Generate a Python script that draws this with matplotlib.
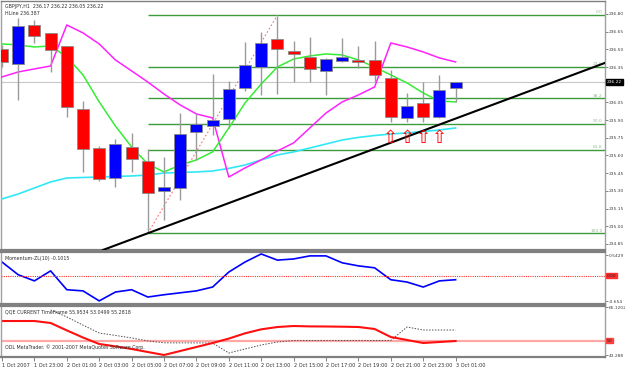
import numpy as np
import matplotlib
matplotlib.use("Agg")
import matplotlib.pyplot as plt
import matplotlib.transforms as mtransforms

# --- data (GBPJPY H1, one value per bar) ---
time_labels = ["1 Oct 2007", "1 Oct 23:00", "2 Oct 01:00", "2 Oct 03:00", "2 Oct 05:00",
               "2 Oct 07:00", "2 Oct 09:00", "2 Oct 11:00", "2 Oct 13:00", "2 Oct 15:00",
               "2 Oct 17:00", "2 Oct 19:00", "2 Oct 21:00", "2 Oct 23:00", "3 Oct 01:00"]

opens  = [236.503, 236.376, 236.707, 236.639, 236.529, 235.995, 235.664, 235.410, 235.673, 235.554,
          235.300, 235.325, 235.800, 235.851, 235.910, 236.173, 236.351, 236.588, 236.486, 236.436,
          236.317, 236.402, 236.410, 236.410, 236.258, 235.919, 236.046, 235.927, 236.173]
highs  = [236.537, 236.766, 236.749, 236.640, 236.530, 236.063, 235.681, 235.741, 235.792, 235.656,
          235.588, 235.961, 235.953, 236.292, 236.232, 236.563, 236.647, 236.783, 236.571, 236.605,
          236.427, 236.597, 236.529, 236.571, 236.325, 236.131, 236.224, 236.283, 236.220]
lows   = [236.351, 236.071, 236.554, 236.308, 235.927, 235.461, 235.385, 235.334, 235.461, 234.940,
          235.054, 235.224, 235.563, 235.775, 235.834, 236.147, 236.114, 236.122, 236.224, 236.224,
          236.114, 236.393, 236.342, 236.224, 235.885, 235.885, 235.885, 235.919, 236.054]
closes = [236.393, 236.698, 236.614, 236.495, 236.012, 235.656, 235.402, 235.698, 235.571, 235.283,
          235.334, 235.783, 235.868, 235.902, 236.164, 236.368, 236.554, 236.503, 236.461, 236.334,
          236.419, 236.436, 236.393, 236.283, 235.927, 236.020, 235.927, 236.156, 236.220]

ma_green = [236.546, 236.537, 236.520, 236.529, 236.435, 236.283, 236.054, 235.850, 235.672, 235.528,
            235.460, 235.519, 235.562, 235.630, 235.833, 236.045, 236.206, 236.350, 236.418, 236.444,
            236.461, 236.452, 236.410, 236.350, 236.283, 236.215, 236.130, 236.062, 236.054]
ma_magenta = [236.266, 236.308, 236.334, 236.359, 236.707, 236.639, 236.546, 236.410, 236.317, 236.223,
              236.121, 236.028, 235.952, 235.918, 235.417, 235.494, 235.562, 235.638, 235.706, 235.833,
              235.960, 236.054, 236.113, 236.181, 236.554, 236.520, 236.478, 236.427, 236.393]
ma_cyan = [235.231, 235.273, 235.324, 235.375, 235.409, 235.413, 235.417, 235.422, 235.426, 235.434,
           235.451, 235.456, 235.460, 235.468, 235.490, 235.519, 235.562, 235.604, 235.630, 235.663,
           235.697, 235.731, 235.753, 235.769, 235.782, 235.791, 235.803, 235.816, 235.833]

fib_high = 236.79
fib_low = 234.94
fib_start_bar = 9
fib_end_bar = 17
fib_levels = [0.0, 23.6, 38.2, 50.0, 61.8, 100.0]

trend_bar = 9
trend_price = 234.94
trend_slope = 0.0512   # price per bar

arrow_bars = [24, 25, 26, 27]
arrow_prices = [235.745, 235.745, 235.745, 235.745]

bid_price = 236.22

momentum = [0.36, 0.03, -0.13, 0.13, -0.36, -0.39, -0.65, -0.42, -0.36, -0.55,
            -0.49, -0.44, -0.39, -0.29, 0.10, 0.36, 0.57, 0.41, 0.44, 0.52,
            0.52, 0.34, 0.26, 0.21, -0.10, -0.16, -0.29, -0.13, -0.10]

qqe_fast = [59.46, 59.46, 59.46, 58.51, 55.00, 51.60, 48.52, 47.40, 46.15, 44.72,
            43.29, 45.19, 47.10, 49.00, 51.10, 53.60, 55.50, 56.60, 57.08, 56.90,
            56.85, 56.75, 56.61, 55.66, 51.85, 50.42, 49.00, 49.47, 49.95]
qqe_slow_bars = list(range(3, 29))
qqe_slow = [64.70, 61.40, 57.50, 53.75, 52.60, 51.40, 50.00, 49.10, 49.05, 49.05,
            49.00, 44.24, 46.14, 48.05, 49.47, 50.20, 50.20, 50.20, 50.20, 50.20,
            50.20, 50.20, 56.61, 55.18, 55.18, 55.18]

n = len(opens)
bars = np.arange(n)

# --- figure layout in pixels (625 x 367) ---
W, H = 625, 367
fig = plt.figure(figsize=(W / 100, H / 100), dpi=100)
fig.patch.set_facecolor("white")

def box(top, bottom, left=1, right=605):
    return [left / W, 1 - bottom / H, (right - left) / W, (bottom - top) / H]

ax = fig.add_axes(box(1, 250))
axm = fig.add_axes(box(252, 304), sharex=ax)
axq = fig.add_axes(box(306, 357), sharex=ax)

small = 3.4
ylab = 3.2
gray = "#808080"
for a in (ax, axm, axq):
    a.set_facecolor("white")
    for s in ("left", "right"):
        a.spines[s].set_color("#a0a0a0")
        a.spines[s].set_linewidth(1)
    for s in ("top", "bottom"):
        a.spines[s].set_color(gray)
        a.spines[s].set_linewidth(1.6)
    a.yaxis.tick_right()
    a.tick_params(axis="y", direction="out", length=2, width=0.6, color="#707070",
                  labelsize=ylab, labelcolor="#404040", pad=0.6)
    a.tick_params(axis="x", bottom=False, labelbottom=False)

ax.spines["top"].set_linewidth(1)

x_left = -1 / 16.2
x_right = x_left + 604 / 16.2
ax.set_xlim(x_left, x_right)

# --- main price panel ---
ax.set_ylim(234.798, 236.910)
price_ticks = np.round(np.arange(234.85, 236.81, 0.15), 2)
ax.set_yticks(price_ticks)
# the 236.20 label sits under the bid price box
ax.set_yticklabels(["" if abs(t - 236.20) < 1e-6 else "%.2f" % t for t in price_ticks])

ax.axhline(bid_price, color="#c8c8c8", lw=0.8, zorder=1)

# fibonacci
fib_tr = mtransforms.blended_transform_factory(ax.transAxes, ax.transData)
for lvl in fib_levels:
    p = fib_high - (fib_high - fib_low) * lvl / 100
    ax.hlines(p, fib_start_bar, x_right, color="#3c9c3c", lw=1.0, zorder=2)
    ax.text(0.996, p + 0.006, "%.1f" % lvl, transform=fib_tr, ha="right", va="bottom",
            fontsize=3.2, color="#98b898", zorder=6)
ax.plot([fib_start_bar, fib_end_bar], [fib_low, fib_high], ls=(0, (1.5, 2)),
        color="#ff7070", lw=0.8, zorder=2)

# moving averages
ax.plot(bars, ma_cyan, color="#30e8f5", lw=1.2, zorder=3)
ax.plot(bars, ma_magenta, color="#ff22ff", lw=1.1, zorder=3)
ax.plot(bars, ma_green, color="#33ee33", lw=1.1, zorder=3)

# candles
for i in range(n):
    o, h, l, c = opens[i], highs[i], lows[i], closes[i]
    col = "#0000ff" if c >= o else "#ff0000"
    ax.vlines(i, l, h, color="#9a9a9a", lw=1.0, zorder=4)
    ax.bar(i, max(abs(c - o), 0.02), bottom=min(o, c), width=0.74, color=col,
           edgecolor="#8a8a8a", linewidth=0.6, zorder=5)

# trend line
ax.axline((trend_bar, trend_price), slope=trend_slope, color="black", lw=1.5, zorder=6)

# arrows
for b, p in zip(arrow_bars, arrow_prices):
    ax.text(b, p, "\u21e7", color="red", fontsize=13, ha="center", va="center",
            family="DejaVu Sans", zorder=7)

ax.text(4 / 604, 1 - 3 / 249, "GBPJPY,H1  236.17 236.22 236.05 236.22", transform=ax.transAxes,
        ha="left", va="top", fontsize=small, color="#303030")
ax.text(4 / 604, 1 - 10 / 249, "HLine 236.387", transform=ax.transAxes,
        ha="left", va="top", fontsize=small, color="#303030")

price_tr = mtransforms.blended_transform_factory(ax.transAxes, ax.transData)
ax.text(1.003, bid_price, "236.22", transform=price_tr, ha="left", va="center",
        fontsize=ylab, color="white", clip_on=False, zorder=8,
        bbox=dict(boxstyle="square,pad=0.2", fc="black", ec="black"))

# --- momentum panel ---
axm.set_ylim(-0.731, 0.621)
axm.plot(bars, momentum, color="#0000ff", lw=1.2)
axm.axhline(0, color="#ff3030", lw=0.8, ls=(0, (1, 1)))
axm.set_yticks([0.5429, -0.654])
axm.set_yticklabels(["0.5429", "-0.654"])
mom_tr = mtransforms.blended_transform_factory(axm.transAxes, axm.transData)
axm.text(1.003, 0, "0.00", transform=mom_tr, ha="left", va="center", fontsize=ylab,
         color="#202020", clip_on=False,
         bbox=dict(boxstyle="square,pad=0.1", fc="#ff3030", ec="#ff3030"))
axm.text(4 / 604, 0.93, "Momentum-ZL(10) -0.1015", transform=axm.transAxes,
         ha="left", va="top", fontsize=small, color="#303030")

# --- QQE panel ---
axq.set_ylim(42.34, 66.60)
axq.axhline(50, color="#ffa8a8", lw=1.6)
axq.plot(qqe_slow_bars, qqe_slow, color="#505050", lw=0.7, ls=(0, (1.5, 1.5)))
axq.plot(bars, qqe_fast, color="#ff1010", lw=1.5)
axq.set_yticks([66.1202, 43.288])
axq.set_yticklabels(["66.1202", "43.288"])
q_tr = mtransforms.blended_transform_factory(axq.transAxes, axq.transData)
axq.text(1.003, 50, "50", transform=q_tr, ha="left", va="center", fontsize=ylab,
         color="#202020", clip_on=False,
         bbox=dict(boxstyle="square,pad=0.1", fc="#ff4040", ec="#ff4040"))
axq.text(4 / 604, 0.93, "QQE CURRENT TimeFrame 55.9534 53.0499 55.2818", transform=axq.transAxes,
         ha="left", va="top", fontsize=small, color="#303030")
axq.text(4 / 604, 0.14, "ODL MetaTrader. \u00a9 2001-2007 MetaQuotes Software Corp.",
         transform=axq.transAxes, ha="left", va="bottom", fontsize=small, color="#303030")

axq.tick_params(axis="x", bottom=True, labelbottom=True, direction="out", length=3,
                width=0.6, color="#707070", labelsize=3.6, labelcolor="#303030", pad=1.5)
axq.set_xticks(np.arange(0, n, 2))
axq.set_xticklabels(time_labels, ha="left")

fig.savefig("out.png", dpi=100, facecolor="white")
